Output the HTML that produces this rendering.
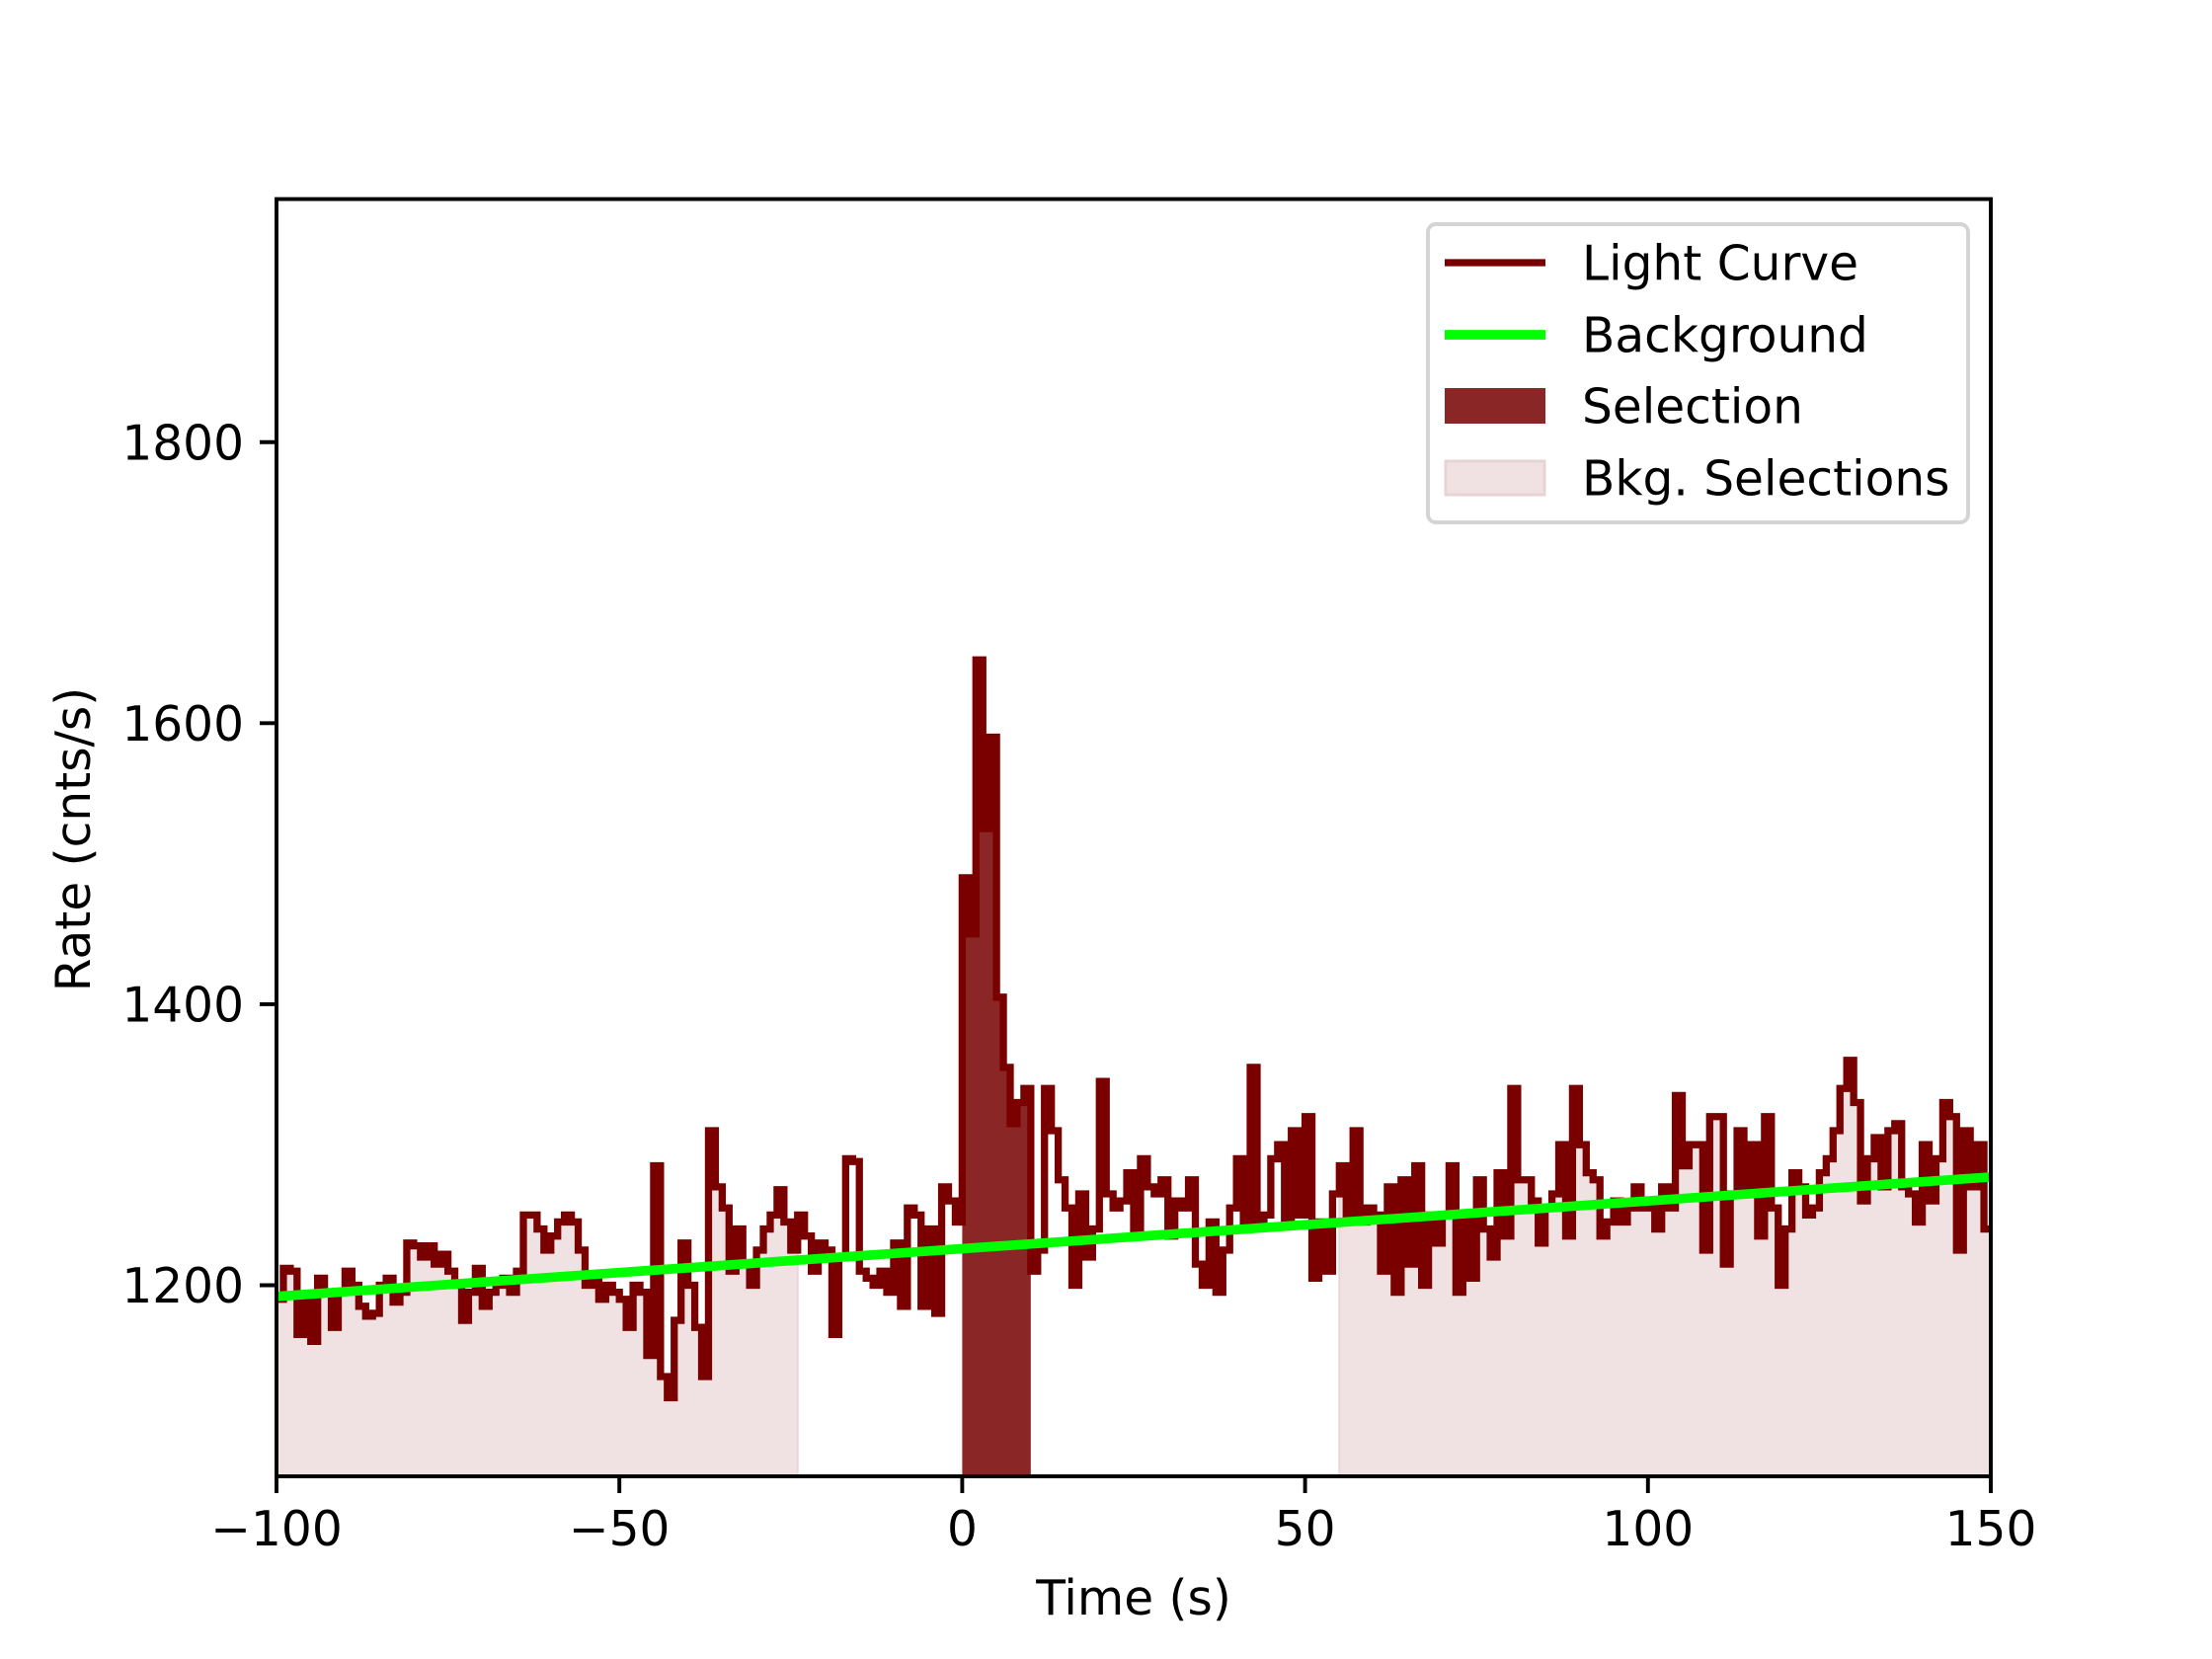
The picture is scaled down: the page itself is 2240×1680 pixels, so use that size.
<!DOCTYPE html>
<html>
<head>
<meta charset="utf-8">
<style>
  html, body { margin: 0; padding: 0; background: #fff; }
  svg { display: block; font-family: "DejaVu Sans", "Liberation Sans", sans-serif; }
</style>
</head>
<body>
<svg id="chart" width="2240" height="1680" viewBox="0 0 2240 1680" xmlns="http://www.w3.org/2000/svg">
  <rect x="0" y="0" width="2240" height="1680" fill="#ffffff"/>
  <g id="fills"></g>
  <g id="series"></g>
  <g id="axes"></g>
  <g id="legend"></g>
</svg>
<script>
// ---- data ----
const binStart = -100;
const binWidth = 1;
const rates = [
  1190,1212,1210,1165,1190,1160,1205,1195,1170,1195,
  1210,1200,1185,1178,1180,1200,1205,1188,1195,1230,
  1228,1220,1228,1215,1222,1210,1200,1175,1195,1212,
  1185,1195,1200,1205,1195,1210,1250,1250,1240,1225,
  1235,1245,1250,1245,1225,1200,1205,1190,1200,1195,
  1190,1170,1200,1195,1150,1285,1135,1120,1175,1230,
  1200,1170,1135,1310,1270,1255,1210,1240,1215,1200,
  1225,1240,1250,1268,1245,1225,1250,1235,1210,1230,
  1225,1165,1220,1290,1288,1210,1205,1200,1210,1195,
  1230,1185,1255,1250,1185,1240,1180,1270,1260,1245,
  1490,1450,1645,1525,1590,1405,1355,1315,1330,1340,
  1210,1225,1340,1310,1275,1255,1200,1265,1220,1240,
  1345,1265,1255,1260,1280,1240,1290,1270,1265,1275,
  1235,1260,1255,1275,1215,1200,1245,1195,1225,1255,
  1290,1240,1355,1245,1250,1290,1300,1245,1310,1250,
  1320,1205,1245,1210,1265,1285,1250,1310,1245,1255,
  1250,1210,1270,1195,1275,1215,1285,1200,1250,1230,
  1250,1285,1195,1250,1205,1275,1240,1220,1280,1235,
  1340,1275,1275,1260,1230,1255,1265,1300,1235,1340,
  1300,1280,1275,1235,1245,1260,1245,1255,1270,1255,
  1260,1240,1270,1255,1335,1285,1300,1300,1225,1320,
  1320,1215,1265,1310,1265,1300,1235,1320,1255,1200,
  1240,1280,1270,1250,1255,1280,1290,1310,1340,1360,
  1330,1260,1290,1305,1270,1310,1315,1270,1265,1245,
  1300,1260,1290,1330,1320,1225,1310,1270,1300,1240
];
const bkgTimes = [-100, 150];
const bkgRates = [1192, 1277];
const selection = [0, 10];
const bkgSelections = [[-100, -24], [55, 150]];
const xTicks = [-100, -50, 0, 50, 100, 150];
const xTickLabels = ["\u2212100", "\u221250", "0", "50", "100", "150"];
const yTicks = [1200, 1400, 1600, 1800];
const yTickLabels = ["1200", "1400", "1600", "1800"];

// ---- axes geometry ----
const AX = {left: 280, right: 2016, top: 201.6, bottom: 1495};
const XMIN = -100, XMAX = 150, YMIN = 1064, YMAX = 1973;
const FS = 48.6;
const xs = t => AX.left + (t - XMIN) / (XMAX - XMIN) * (AX.right - AX.left);
const ys = v => AX.bottom - (v - YMIN) / (YMAX - YMIN) * (AX.bottom - AX.top);
const NS = "http://www.w3.org/2000/svg";
function mk(tag, attrs, parent) {
  const e = document.createElementNS(NS, tag);
  for (const k in attrs) e.setAttribute(k, attrs[k]);
  parent.appendChild(e);
  return e;
}
const fills = document.getElementById('fills');
const series = document.getElementById('series');
const axes = document.getElementById('axes');
const legend = document.getElementById('legend');

function fillPath(t0, t1) {
  let d = "M" + xs(t0) + "," + ys(YMIN);
  for (let i = 0; i < rates.length; i++) {
    const a = binStart + i * binWidth, b = a + binWidth;
    const lo = Math.max(a, t0), hi = Math.min(b, t1);
    if (hi <= lo) continue;
    d += " L" + xs(lo) + "," + ys(rates[i]) + " L" + xs(hi) + "," + ys(rates[i]);
  }
  d += " L" + xs(t1) + "," + ys(YMIN) + " Z";
  return d;
}
bkgSelections.forEach(function (r) {
  const p = mk('path', {d: fillPath(r[0], r[1]), fill: '#f0e2e3', stroke: '#ead6d8', 'stroke-width': 2}, fills);
  
  
});
const sel = mk('path', {d: fillPath(selection[0], selection[1]), fill: '#8b2626'}, fills);



// light curve step line
let d = "";
for (let i = 0; i < rates.length; i++) {
  const a = binStart + i * binWidth, b = a + binWidth;
  d += (i === 0 ? "M" : " L") + xs(a) + "," + ys(rates[i]) + " L" + xs(b) + "," + ys(rates[i]);
}
const lc = mk('path', {d: d, fill: 'none', stroke: '#7a0000', 'stroke-width': 7.3, 'stroke-linejoin': 'miter'}, series);



const bl = mk('path', {d: "M" + xs(bkgTimes[0]) + "," + ys(bkgRates[0]) + " L" + xs(bkgTimes[1]) + "," + ys(bkgRates[1]), stroke: '#00ff00', 'stroke-width': 9.7, fill: 'none'}, series);



// spines
const frame = mk('rect', {x: AX.left, y: AX.top, width: AX.right - AX.left, height: AX.bottom - AX.top, fill: 'none', stroke: '#000', 'stroke-width': 3.9}, axes);



xTicks.forEach(function (t, i) {
  const x = xs(t);
  const tk = mk('line', {x1: x, x2: x, y1: AX.bottom, y2: AX.bottom + 17, stroke: '#000', 'stroke-width': 3.9}, axes);
  
  
  const lb = mk('text', {x: x, y: AX.bottom + 70, 'font-size': FS, 'text-anchor': 'middle', fill: '#000'}, axes);
  lb.textContent = xTickLabels[i];
  
  
});
yTicks.forEach(function (v, i) {
  const y = ys(v);
  const tk = mk('line', {x1: AX.left - 17, x2: AX.left, y1: y, y2: y, stroke: '#000', 'stroke-width': 3.9}, axes);
  
  
  const lb = mk('text', {x: AX.left - 33, y: y + 17.5, 'font-size': FS, 'text-anchor': 'end', fill: '#000'}, axes);
  lb.textContent = yTickLabels[i];
  
  
});
const xl = mk('text', {x: (AX.left + AX.right) / 2, y: 1635, 'font-size': FS, 'text-anchor': 'middle', fill: '#000'}, axes);
xl.textContent = "Time (s)";


const yl = mk('text', {x: 0, y: 0, 'font-size': FS, 'text-anchor': 'middle', fill: '#000', transform: 'translate(91,850) rotate(-90)'}, axes);
yl.textContent = "Rate (cnts/s)";



// legend
const lbox = mk('rect', {x: 1446, y: 227, width: 547, height: 302, rx: 8, fill: '#ffffff', 'fill-opacity': 0.8, stroke: '#d4d4d4', 'stroke-width': 3.9}, legend);


const rowsY = [266, 339, 411, 484];
const labels = ["Light Curve", "Background", "Selection", "Bkg. Selections"];
const names = ["legend-entry-light-curve", "legend-entry-background", "legend-entry-selection", "legend-entry-bkg-selections"];
rowsY.forEach(function (y, i) {
  const g = mk('g', {}, legend);
  
  
  if (i === 0) mk('line', {x1: 1463, x2: 1565, y1: y, y2: y, stroke: '#7a0000', 'stroke-width': 7.3}, g);
  if (i === 1) mk('line', {x1: 1463, x2: 1565, y1: y, y2: y, stroke: '#00ff00', 'stroke-width': 9.7}, g);
  if (i === 2) mk('rect', {x: 1463, y: y - 18, width: 102, height: 36, fill: '#8b2626'}, g);
  if (i === 3) mk('rect', {x: 1464, y: y - 17, width: 100, height: 34, fill: '#f0e2e3', stroke: '#e8d2d4', 'stroke-width': 3}, g);
  const t = mk('text', {x: 1602, y: y + 17.5, 'font-size': FS, fill: '#000'}, g);
  t.textContent = labels[i];
});
</script>
</body>
</html>
